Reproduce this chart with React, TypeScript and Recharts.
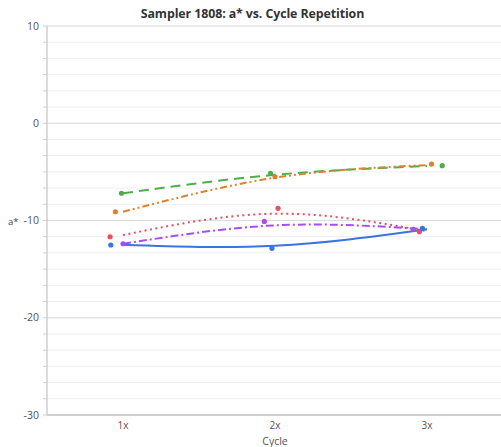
import React from "react";
import {
  ComposedChart,
  Line,
  Scatter,
  XAxis,
  YAxis,
  CartesianGrid,
  ReferenceLine,
  Label,
} from "recharts";

// Categories (cycle repetition)
const cycles = [1, 2, 3];
const cycleLabels = ["1x", "2x", "3x"];

// Trend line values at each cycle
const greenLine = [-7.2, -5.3, -4.4];
const orangeLine = [-9.1, -5.6, -4.3];
const redLine = [-11.5, -9.3, -11.1];
const purpleLine = [-12.4, -10.5, -10.9];
const blueLine = [-12.5, -12.6, -10.9];

// Measured points (slightly jittered horizontally)
const greenPtX = [0.99, 1.97, 3.1];
const greenPtY = [-7.2, -5.15, -4.36];
const orangePtX = [0.95, 2.0, 3.03];
const orangePtY = [-9.1, -5.5, -4.2];
const redPtX = [0.915, 2.02, 2.95];
const redPtY = [-11.67, -8.75, -11.15];
const bluePtX = [0.92, 1.98, 2.97];
const bluePtY = [-12.52, -12.86, -10.8];
const purplePtX = [1.0, 1.93, 2.91];
const purplePtY = [-12.39, -10.1, -10.9];

// Y axis ticks
const majorTicks = [-30, -20, -10, 0, 10];
const minorStep = 10 / 6;

const yTicks: number[] = [];
for (let i = 0; i <= 24; i++) yTicks.push(-30 + i * minorStep);

const C = {
  green: "#4cae4c",
  orange: "#e0822a",
  red: "#e8505e",
  purple: "#a64ef0",
  blue: "#3b73e0",
};

const toLine = (vals: number[]) => cycles.map((c, i) => ({ x: c, y: vals[i] }));
const toPts = (xs: number[], ys: number[]) => xs.map((x, i) => ({ x, y: ys[i] }));

const dot = (color: string) => (props: any) => {
  const { cx, cy } = props;
  if (cx == null || cy == null) return <g />;
  return <circle cx={cx} cy={cy} r={2.6} fill={color} />;
};

const isMajor = (v: number) => majorTicks.some((m) => Math.abs(m - v) < 1e-6);

export default function App() {
  const font = "'Open Sans', 'Noto Sans', sans-serif";
  return (
    <div
      style={{
        position: "absolute",
        left: 0,
        top: 0,
        width: 501,
        height: 447,
        overflow: "hidden",
        background: "#fff",
        fontFamily: font,
      }}
    >
      <div
        style={{
          position: "absolute",
          left: 0,
          width: 505,
          top: 6,
          lineHeight: "16px",
          textAlign: "center",
          fontWeight: 700,
          fontSize: 12.4,
          color: "#333",
          fontFamily: "'Open Sans', sans-serif",
          letterSpacing: -0.1,
        }}
      >
        Sampler 1808: a* vs. Cycle Repetition
      </div>
      <div
        style={{
          position: "absolute",
          left: 8,
          top: 215,
          fontSize: 9.5,
          color: "#444",
        }}
      >
        a*
      </div>
      <ComposedChart
        width={503}
        height={447}
        margin={{ top: 26, right: 0, bottom: 0, left: 0 }}
        style={{ fontFamily: font }}
      >
        <CartesianGrid vertical={false} stroke="#efefef" strokeWidth={1} />
        <XAxis
          type="number"
          dataKey="x"
          domain={[0.5, 3.5]}
          ticks={cycles}
          tickFormatter={(v: number) => cycleLabels[cycles.indexOf(v)] ?? ""}
          tickLine={false}
          axisLine={{ stroke: "#cfcfcf", strokeWidth: 2 }}
          tick={{ fontSize: 10, fill: "#555" }}
          tickMargin={1}
          height={32}
          allowDataOverflow
        >
          <Label
            value="Cycle"
            position="insideBottom"
            offset={2}
            style={{ fontSize: 10.5, fill: "#555" }}
          />
        </XAxis>
        <YAxis
          type="number"
          dataKey="y"
          domain={[-30, 10]}
          ticks={yTicks}
          interval={0}
          tickFormatter={(v: number) => (isMajor(v) ? String(Math.round(v)) : "")}
          tickLine={{ stroke: "#cfcfcf" }}
          tickSize={4}
          tickMargin={4}
          axisLine={{ stroke: "#cfcfcf", strokeWidth: 1.5 }}
          tick={{ fontSize: 10.5, fill: "#555" }}
          width={47}
          allowDataOverflow
        />
        {majorTicks.map((m) => (
          <ReferenceLine key={m} y={m} stroke="#dcdcdc" strokeWidth={1} ifOverflow="extendDomain" />
        ))}
        <Line
          data={toLine(greenLine)}
          dataKey="y"
          type="natural"
          stroke={C.green}
          strokeWidth={2}
          strokeDasharray="10 6"
          dot={false}
          activeDot={false}
          isAnimationActive={false}
        />
        <Line
          data={toLine(orangeLine)}
          dataKey="y"
          type="natural"
          stroke={C.orange}
          strokeWidth={2}
          strokeDasharray="7 3 2 3 2 3"
          dot={false}
          activeDot={false}
          isAnimationActive={false}
        />
        <Line
          data={toLine(redLine)}
          dataKey="y"
          type="natural"
          stroke={C.red}
          strokeWidth={2}
          strokeDasharray="2 3.5"
          dot={false}
          activeDot={false}
          isAnimationActive={false}
        />
        <Line
          data={toLine(purpleLine)}
          dataKey="y"
          type="natural"
          stroke={C.purple}
          strokeWidth={2}
          strokeDasharray="8 3 2 3"
          dot={false}
          activeDot={false}
          isAnimationActive={false}
        />
        <Line
          data={toLine(blueLine)}
          dataKey="y"
          type="natural"
          stroke={C.blue}
          strokeWidth={2}
          dot={false}
          activeDot={false}
          isAnimationActive={false}
        />
        <Scatter data={toPts(greenPtX, greenPtY)} dataKey="y" shape={dot(C.green)} isAnimationActive={false} />
        <Scatter data={toPts(orangePtX, orangePtY)} dataKey="y" shape={dot(C.orange)} isAnimationActive={false} />
        <Scatter data={toPts(redPtX, redPtY)} dataKey="y" shape={dot(C.red)} isAnimationActive={false} />
        <Scatter data={toPts(bluePtX, bluePtY)} dataKey="y" shape={dot(C.blue)} isAnimationActive={false} />
        <Scatter data={toPts(purplePtX, purplePtY)} dataKey="y" shape={dot(C.purple)} isAnimationActive={false} />
      </ComposedChart>
    </div>
  );
}
